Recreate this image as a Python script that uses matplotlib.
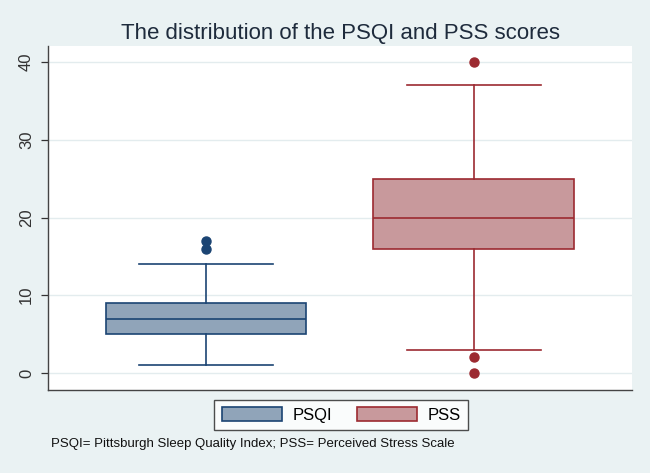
import matplotlib
matplotlib.use('Agg')
import matplotlib.pyplot as plt
from matplotlib.patches import Patch

plt.rcParams['font.family'] = ['Liberation Sans', 'DejaVu Sans']

# box summary values
groups = ['PSQI', 'PSS']
whislo = [1, 3]
q1 = [5, 16]
med = [7, 20]
q3 = [9, 25]
whishi = [14, 37]
outliers = [[16, 17], [40, 2, 0]]
yticks = [0, 10, 20, 30, 40]

fills = ['#90a4b9', '#c8999c']
edges = ['#1b4473', '#9c2a31']
bg = '#eaf2f3'

fig = plt.figure(figsize=(6.5, 4.73), dpi=100, facecolor=bg)
ax = fig.add_axes([0.0738, 0.1755, 0.8985, 0.7272])
ax.set_facecolor('white')

for i in range(len(groups)):
    st = [{'whislo': whislo[i], 'q1': q1[i], 'med': med[i], 'q3': q3[i],
           'whishi': whishi[i], 'fliers': outliers[i], 'label': groups[i]}]
    ax.bxp(st, positions=[i + 1], widths=0.75, patch_artist=True,
           showfliers=True, manage_ticks=False,
           boxprops=dict(facecolor=fills[i], edgecolor=edges[i], linewidth=1.2),
           medianprops=dict(color=edges[i], linewidth=1.2),
           whiskerprops=dict(color=edges[i], linewidth=1.2),
           capprops=dict(color=edges[i], linewidth=1.2),
           capwidths=0.5,
           flierprops=dict(marker='o', markerfacecolor=edges[i],
                           markeredgecolor=edges[i], markersize=6.5))

ax.set_xlim(0.41, 2.59)
ax.set_ylim(-2.19, 42.06)
ax.set_xticks([])
ax.set_yticks(yticks)
ax.set_yticklabels([str(t) for t in yticks], rotation=90, va='center',
                   fontsize=12, color='#333333')
ax.tick_params(axis='y', length=5, width=0.9, color='#333333', pad=5)
ax.yaxis.grid(True, color='#e3ecee', linewidth=1)
ax.set_axisbelow(True)
for s in ['top', 'right']:
    ax.spines[s].set_visible(False)
for s in ['left', 'bottom']:
    ax.spines[s].set_color('#444444')
    ax.spines[s].set_linewidth(1.0)

fig.text(0.524, 0.93, 'The distribution of the PSQI and PSS scores',
         ha='center', va='center', fontsize=16, color='#1e2b3c')

handles = [Patch(facecolor=fills[i], edgecolor=edges[i], linewidth=1.2, label=groups[i])
           for i in range(len(groups))]
leg = fig.legend(handles=handles, loc='center', bbox_to_anchor=(0.525, 0.1226),
                 ncol=2, fontsize=12, frameon=True, fancybox=False,
                 handlelength=3.6, handleheight=0.9, columnspacing=1.5,
                 borderpad=0.45, handletextpad=0.65)
leg.get_frame().set_edgecolor('#222222')
leg.get_frame().set_linewidth(1.0)

fig.text(0.078, 0.061, 'PSQI= Pittsburgh Sleep Quality Index; PSS= Perceived Stress Scale',
         ha='left', va='center', fontsize=9.5, color='#111111')

fig.savefig('out.png', dpi=100, facecolor=bg)
